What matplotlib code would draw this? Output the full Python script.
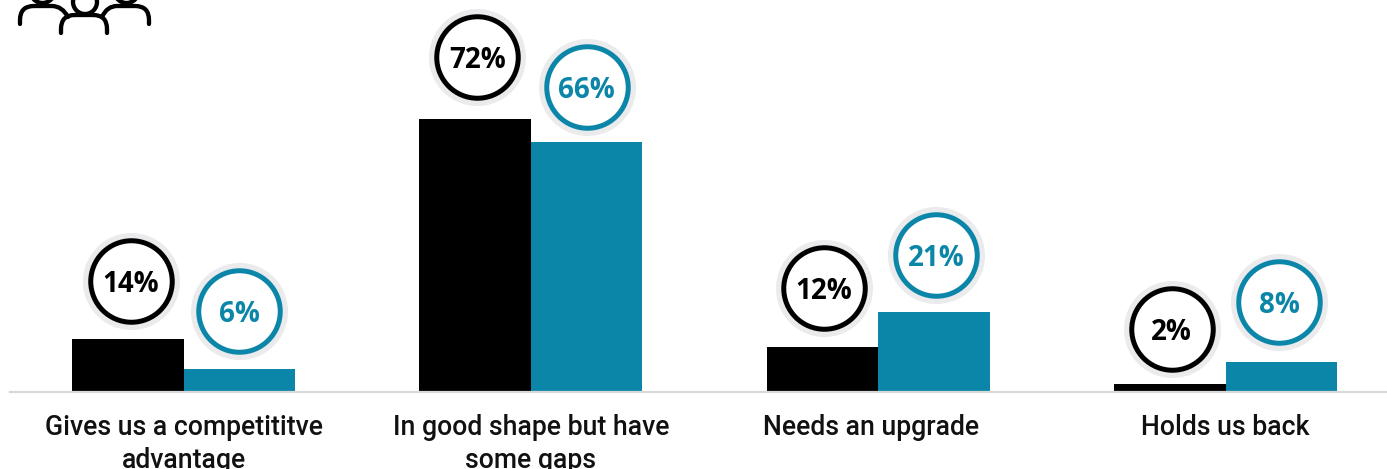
import matplotlib
matplotlib.use("Agg")
import matplotlib.pyplot as plt
from matplotlib.path import Path
from matplotlib.patches import PathPatch, Circle
from matplotlib.transforms import offset_copy, ScaledTranslation

categories = ["Gives us a competititve\nadvantage", "In good shape but have\nsome gaps",
              "Needs an upgrade", "Holds us back"]
series_black = [14, 72, 12, 2]
series_teal = [6, 66, 21, 8]

BLACK = "#000000"
TEAL = "#0b86a9"
HALO = "#ebebed"

W, H = 1387, 469
fig = plt.figure(figsize=(W / 100, H / 100), dpi=100)
ax = fig.add_axes([10 / W, (H - 392) / H, 1377 / W, 392 / H])
ax.patch.set_alpha(0)

bar_w = 0.321
ax.set_xlim(-0.5, -0.5 + 1377 / 347.3)
ax.set_ylim(0, 392 / 3.79)

xs = list(range(len(categories)))
ax.bar([x - bar_w / 2 for x in xs], series_black, bar_w, color=BLACK)
ax.bar([x + bar_w / 2 for x in xs], series_teal, bar_w, color=TEAL)


def badge(x, value, color, dx, dy):
    # ring with a pale halo, placed a fixed distance over the bar top (pixels)
    tr = offset_copy(ax.transData, fig=fig, x=dx, y=dy, units="dots")
    ax.plot([x], [value], "o", ms=91.5 * 0.72, mfc="none", mec=HALO, mew=5.5 * 0.72,
            transform=tr, clip_on=False, zorder=3)
    ax.plot([x], [value], "o", ms=81.5 * 0.72, mfc="white", mec=color, mew=5.0 * 0.72,
            transform=tr, clip_on=False, zorder=4)
    ax.text(x, value, f"{value}%", transform=tr, ha="center", va="center_baseline",
            family="Open Sans", weight="bold", fontsize=20, color=color, zorder=5)


black_nudges = [(3, 58), (2, 62), (1, 59), (2, 55)]
teal_nudges = [(0, 58), (0, 55), (2, 57), (-2, 60)]
for x, v, (dx, dy) in zip(xs, series_black, black_nudges):
    badge(x - bar_w / 2, v, BLACK, dx, dy)
for x, v, (dx, dy) in zip(xs, series_teal, teal_nudges):
    badge(x + bar_w / 2, v, TEAL, dx, dy)

for s in ["top", "left", "right"]:
    ax.spines[s].set_visible(False)
ax.spines["bottom"].set_color("#d9d9d9")
ax.spines["bottom"].set_linewidth(1.6)
ax.set_yticks([])
ax.set_xticks(xs)
ax.set_xticklabels(categories, family="Roboto", weight="medium", fontsize=19.2,
                   color="#111111", linespacing=1.27)
ax.tick_params(axis="x", length=0, pad=16)

# "Needs an upgrade" sits a little left of its bars
lab = ax.get_xticklabels()[2]
lab.set_transform(lab.get_transform() + ScaledTranslation(-7 / 100, 0, fig.dpi_scale_trans))

# people icon in the top left corner, overlay uses pixel coordinates
icon = fig.add_axes([0, 0, 1, 1])
icon.set_xlim(0, W)
icon.set_ylim(H, 0)
icon.axis("off")

shoulder_code = [Path.MOVETO, Path.LINETO, Path.CURVE3, Path.CURVE3, Path.LINETO, Path.CURVE3, Path.CURVE3]
shoulders = [
    [(20, 24), (20, 20), (20, 6), (34, 6), (52, 6), (62, 6), (68, 17)],
    [(61, 33), (61, 29), (61, 15), (75, 15), (93, 15), (107, 15), (107, 29)],
    [(149, 24), (149, 20), (149, 6), (135, 6), (117, 6), (107, 6), (102, 17)],
]
shoulders[1].append((107, 33))
for i, pts in enumerate(shoulders):
    code = shoulder_code + [Path.LINETO] if i == 1 else shoulder_code
    icon.add_patch(PathPatch(Path(pts, code), fc="none", ec="black", lw=3.1, capstyle="round"))
for cx, cy, r in [(42.5, -9, 12), (85, 2, 12), (126.5, -9, 12)]:
    icon.add_patch(Circle((cx, cy), r, fc="none", ec="black", lw=3.1))

fig.savefig("out.png", dpi=100)
